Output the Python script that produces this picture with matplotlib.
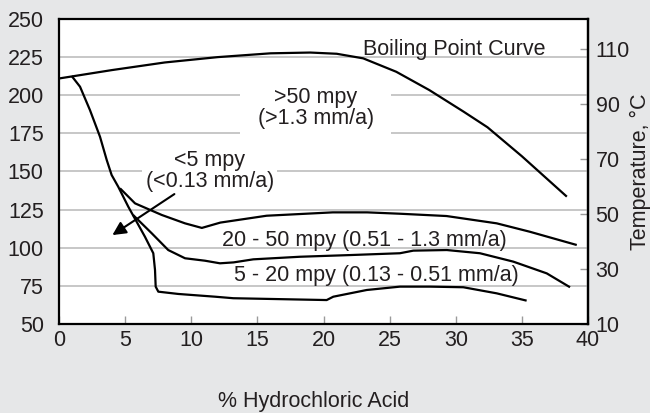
import matplotlib
matplotlib.use('Agg')
import matplotlib.pyplot as plt

plt.rcParams['font.family'] = ['Liberation Sans', 'DejaVu Sans']

# boiling point curve
boil_x = [0, 4, 8, 12, 16, 19, 21, 23, 25.5, 28, 30.6, 32.4, 35, 38.4]
boil_y = [211, 216.5, 221.5, 225, 227.5, 228, 227.2, 224.2, 215.4, 203.4, 189.2, 179, 160, 133.5]

# <5 mpy / 5-20 mpy boundary
low_x = [0.96, 1.59, 2.34, 3.10, 3.61, 3.98, 4.48, 5.24, 6.50, 7.13, 7.26, 7.31, 7.51, 9.02,
         11.8, 13.18, 20.24, 20.74, 23.27, 25.78, 28.05, 30.57, 33.1, 35.36]
low_y = [212.6, 205.6, 190.3, 172.8, 157.5, 147.7, 140.0, 126.9, 107.2, 96.4, 85.4, 74.5, 71.2, 69.7,
         67.9, 66.9, 65.7, 67.9, 72.3, 74.5, 74.5, 74.1, 70.1, 65.3]

# 5-20 / 20-50 mpy boundary
mid_x = [5.6, 7.01, 8.26, 9.53, 11.04, 12.17, 13.2, 14.69, 18.22, 22.0, 25.78, 26.79, 29.32,
         31.83, 34.35, 36.88, 38.64]
mid_y = [121.5, 109.5, 98.5, 93.1, 91.5, 89.8, 90.4, 92.4, 94.1, 95.2, 96.4, 98.1, 98.5,
         96.4, 90.9, 83.2, 74.1]

# 20-50 / >50 mpy boundary
high_x = [4.61, 5.75, 7.77, 9.53, 10.8, 12.2, 15.7, 20.7, 23.3, 25.8, 29.3, 33.1, 35.6, 39.15]
high_y = [139.0, 129.1, 121.5, 116.0, 113.0, 116.5, 121.0, 123.2, 123.2, 122.3, 120.8, 116.0, 110.5, 101.8]

x_ticks = [0, 5, 10, 15, 20, 25, 30, 35, 40]
y_ticks = [50, 75, 100, 125, 150, 175, 200, 225, 250]
c_ticks = [10, 30, 50, 70, 90, 110]

arrow_tail = (8.9, 136.2)
arrow_tip = (3.86, 107.3)

bg = '#e6e7e8'
tc = '#231f20'
fs = 15.5

fig = plt.figure(figsize=(6.5, 4.13), dpi=100, facecolor=bg)
ax = fig.add_axes([59/650, 1-324/413, (588-59)/650, (324-19)/413])
ax.set_facecolor('white')

for yv in y_ticks[1:-1]:
    ax.axhline(yv, color='#bdbdbd', lw=1.2, zorder=1)

for xs, ys in [(boil_x, boil_y), (low_x, low_y), (mid_x, mid_y), (high_x, high_y)]:
    ax.plot(xs, ys, color='black', lw=1.6, zorder=4, solid_capstyle='butt',
            solid_joinstyle='round')

ax.annotate('', xy=arrow_tip, xytext=arrow_tail,
            arrowprops=dict(arrowstyle='-|>', color='black', lw=1.5, mutation_scale=20),
            zorder=5)

ax.text(29.9, 226.6, 'Boiling Point Curve', fontsize=fs, color=tc, ha='center', va='baseline', zorder=3)
ax.text(19.4, 191.8, '>50 mpy\n(>1.3 mm/a)', fontsize=fs, color=tc, ha='center', va='center',
        linespacing=1.0, zorder=3,
        bbox=dict(boxstyle='square,pad=0.8', fc='white', ec='none'))
ax.text(11.4, 150.5, '<5 mpy\n(<0.13 mm/a)', fontsize=fs, color=tc, ha='center', va='center',
        linespacing=1.0, zorder=3,
        bbox=dict(boxstyle='square,pad=0.15', fc='white', ec='none'))
ax.text(23.1, 105, '20 - 50 mpy (0.51 - 1.3 mm/a)', fontsize=fs, color=tc,
        ha='center', va='center', zorder=3)
ax.text(24.0, 82, '5 - 20 mpy (0.13 - 0.51 mm/a)', fontsize=fs, color=tc,
        ha='center', va='center', zorder=3)

ax.set_xlim(0, 40)
ax.set_ylim(50, 250)
ax.set_xticks(x_ticks)
ax.set_yticks(y_ticks)
ax.tick_params(axis='x', direction='in', length=6, width=1, color='#9a9a9a',
               labelsize=fs, labelcolor=tc, pad=4)
ax.tick_params(axis='y', length=0, labelsize=fs, labelcolor=tc, pad=11)
for s in ax.spines.values():
    s.set_linewidth(1.6)
    s.set_color('black')

sec = ax.secondary_yaxis('right', functions=(lambda f: (f - 32) * 5 / 9, lambda c: c * 9 / 5 + 32))
sec.set_yticks(c_ticks)
sec.tick_params(direction='in', length=6, width=1, color='#9a9a9a',
                labelsize=fs, labelcolor=tc, pad=5.5)
sec.spines['right'].set_linewidth(1.6)

fig.text(314/650, 1-402/413, '% Hydrochloric Acid', fontsize=fs, color=tc, ha='center', va='center')
fig.text(640/650, 1-172/413, 'Temperature, °C', fontsize=fs, color=tc, ha='center', va='center',
         rotation=90)

fig.savefig('out.png', dpi=100, facecolor=bg)
